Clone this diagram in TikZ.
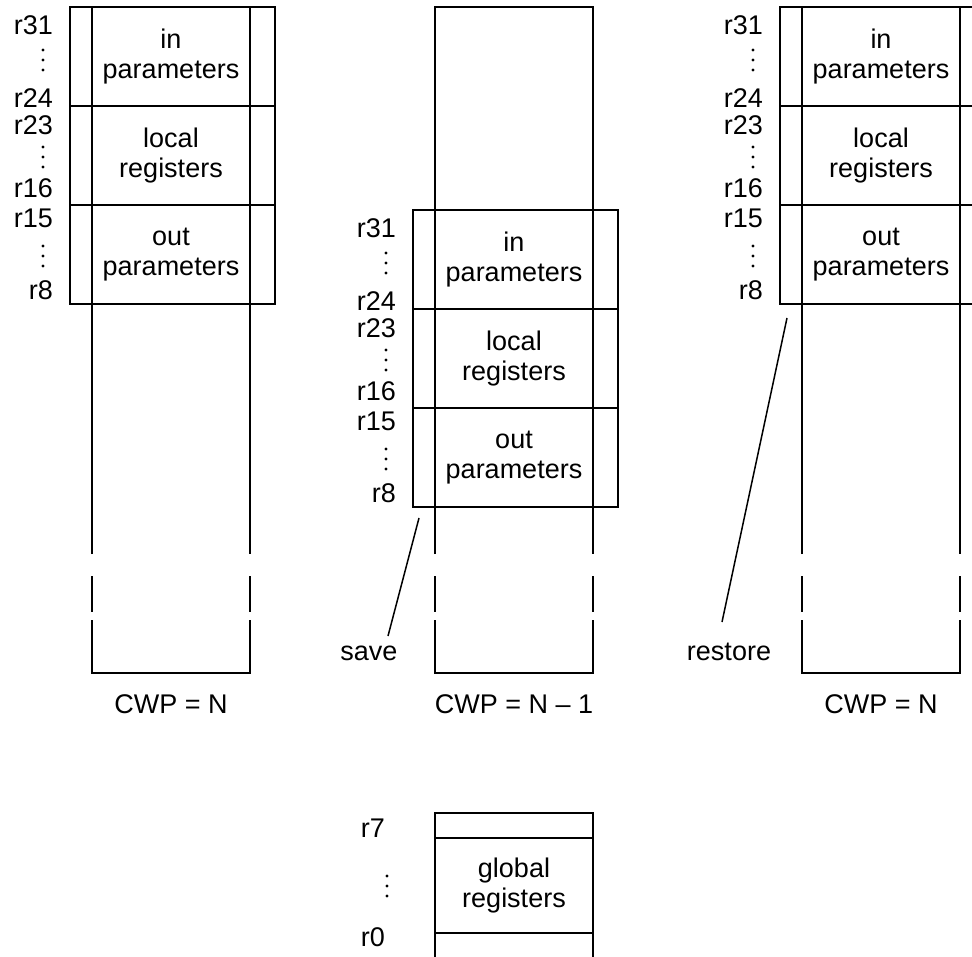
\documentclass[tikz,border=0pt]{standalone}
\usepackage{fontspec}
\setmainfont{Liberation Sans}
\usetikzlibrary{calc}

\tikzset{
  ln/.style={line width=1.8pt},
  thin ln/.style={line width=1.5pt},
  lbl/.style={font=\fontsize{27}{30}\selectfont, inner sep=0pt},
  boxtext/.style={lbl, align=center},
  reg/.style={lbl, anchor=east},
}

% three small dots standing in for the skipped register numbers
\newcommand\regdots[2]{%
  \fill (#1,#2-10) circle (1.7pt) (#1,#2) circle (1.7pt) (#1,#2+10) circle (1.7pt);}

% one window column, #1 = left edge of the column
\newcommand\wincolumn[1]{%
  \draw[ln] (#1,554) -- (#1,7) -- (#1+158,7) -- (#1+158,554);
  \draw[ln] (#1,576) -- (#1,612) (#1+158,576) -- (#1+158,612);
  \draw[ln] (#1,620) -- (#1,673) -- (#1+158,673) -- (#1+158,620);}

% the register window: #1 = name prefix, #2 = column left edge, #3 = top
\newcommand\regwindow[3]{%
  \draw[ln] (#2-22,#3) rectangle (#2+183,#3+297);
  \draw[ln] (#2-22,#3+99) -- (#2+183,#3+99) (#2-22,#3+198) -- (#2+183,#3+198);
  \node[boxtext] (#1in)  at (#2+79,#3+49.5)  {in\\parameters};
  \node[boxtext] (#1loc) at (#2+79,#3+148.5) {local\\registers};
  \node[boxtext] (#1out) at (#2+79,#3+247.5) {out\\parameters};
  \node[reg] (#1r31) at (#2-39,#3+18)  {r31};
  \node[reg] (#1r24) at (#2-39,#3+91)  {r24};
  \node[reg] (#1r23) at (#2-39,#3+118) {r23};
  \node[reg] (#1r16) at (#2-39,#3+181) {r16};
  \node[reg] (#1r15) at (#2-39,#3+211) {r15};
  \node[reg] (#1r8)  at (#2-39,#3+283) {r8};
  \regdots{#2-49}{#3+53}
  \regdots{#2-49}{#3+150}
  \regdots{#2-49}{#3+249}}

\begin{document}
\begin{tikzpicture}[x=1pt,y=-1pt]
\useasboundingbox (0,0) rectangle (972,957);

% window columns
\wincolumn{92}
\wincolumn{435}
\wincolumn{802}

% register windows
\regwindow{A}{92}{7}
\regwindow{B}{435}{210}
\regwindow{C}{802}{7}

% current window pointer values
\node[lbl] (cwpA) at (171,704) {CWP = N};
\node[lbl] (cwpB) at (514,704) {CWP = N – 1};
\node[lbl] (cwpC) at (881,704) {CWP = N};

% save and restore
\node[lbl] (save) at (369,653) {save};
\coordinate (saveA) at (419,518);
\coordinate (saveB) at (388,636);
\draw[thin ln] (saveA) -- (saveB);

\node[lbl] (restore) at (729,652) {restore};
\coordinate (restA) at (787,318);
\coordinate (restB) at (722,622);
\draw[thin ln] (restA) -- (restB);

% global registers
\draw[ln] (435,960) -- (435,813) -- (593,813) -- (593,960);
\draw[ln] (435,838) -- (593,838) (435,933) -- (593,933);
\node[boxtext] (glob) at (514,885.5) {global\\registers};
\node[reg] (r7) at (385,828) {r7};
\node[reg] (r0) at (385,937) {r0};
\regdots{387}{886}
\end{tikzpicture}
\end{document}
